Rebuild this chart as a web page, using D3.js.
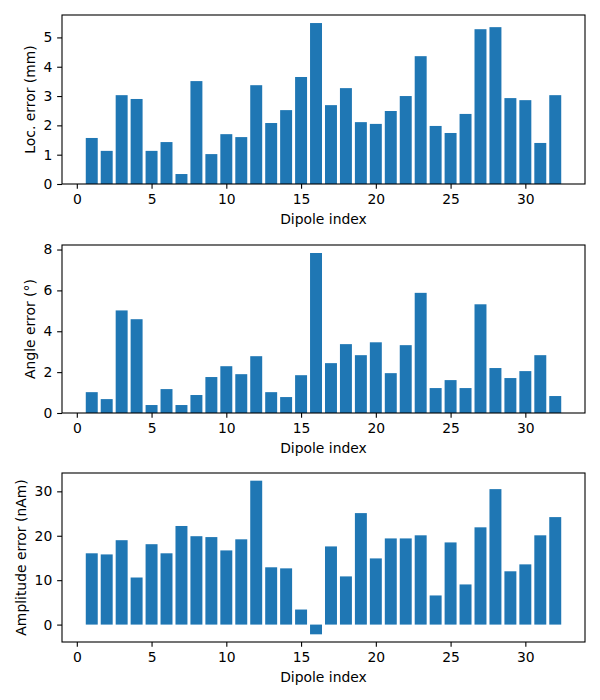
<!DOCTYPE html>
<html>
<head>
<meta charset="utf-8">
<script src="https://cdn.jsdelivr.net/npm/d3@7/dist/d3.min.js"></script>
<style>
  html, body { margin: 0; padding: 0; background: #fff; }
  svg { display: block; }
  text { font-family: "DejaVu Sans", sans-serif; fill: #000; }
</style>
</head>
<body>
<svg id="chart" width="600" height="700"></svg>
<script>
// ---- data ----
const dipoleIndex = d3.range(1, 33);
const locError = [1.57, 1.13, 3.03, 2.90, 1.13, 1.43, 0.34, 3.51, 1.02, 1.70, 1.60, 3.37, 2.08, 2.52, 3.65, 5.49,
                  2.69, 3.27, 2.11, 2.05, 2.49, 3.00, 4.36, 1.98, 1.74, 2.39, 5.28, 5.35, 2.93, 2.86, 1.40, 3.03];
const angleError = [1.02, 0.68, 5.02, 4.59, 0.39, 1.17, 0.39, 0.88, 1.76, 2.29, 1.90, 2.78, 1.02, 0.78, 1.85, 7.83,
                    2.44, 3.37, 2.83, 3.46, 1.95, 3.32, 5.88, 1.22, 1.61, 1.22, 5.32, 2.20, 1.71, 2.05, 2.83, 0.83];
const ampError = [16.05, 15.8, 19.0, 10.6, 18.1, 16.05, 22.2, 19.9, 19.7, 16.7, 19.2, 32.4, 12.9, 12.66, 3.39, -2.19,
                  17.6, 10.85, 25.1, 14.9, 19.4, 19.4, 20.1, 6.56, 18.5, 9.04, 21.9, 30.5, 12.0, 13.56, 20.1, 24.2];
const xTicks = [0, 5, 10, 15, 20, 25, 30];
const panels = [
  { values: locError,   ylabel: "Loc. error (mm)",       yTicks: [0, 1, 2, 3, 4, 5] },
  { values: angleError, ylabel: "Angle error (°)",       yTicks: [0, 2, 4, 6, 8] },
  { values: ampError,   ylabel: "Amplitude error (nAm)", yTicks: [0, 10, 20, 30] }
];
const xLabel = "Dipole index";

// ---- layout ----
const svg = d3.select("#chart");
const left = 62, right = 585;
const boxes = [[15, 184], [245, 413], [473, 642]];
const fs = 13.9, tickLen = 4.86, tickPad = 4.86, color = "#1f77b4";
const barW = 0.8;

// x limits like matplotlib margins 0.05
const xmin0 = d3.min(dipoleIndex) - barW / 2, xmax0 = d3.max(dipoleIndex) + barW / 2;
const xm = (xmax0 - xmin0) * 0.05;
const x = d3.scaleLinear().domain([xmin0 - xm, xmax0 + xm]).range([left, right]);

panels.forEach((p, k) => {
  const [top, bottom] = boxes[k];
  const dmin = Math.min(0, d3.min(p.values)), dmax = Math.max(0, d3.max(p.values));
  const m = (dmax - dmin) * 0.05;
  const lo = dmin < 0 ? dmin - m : 0;
  const y = d3.scaleLinear().domain([lo, dmax + m]).range([bottom, top]);

  const g = svg.append("g");

  g.selectAll("rect.bar").data(p.values).join("rect")
    .attr("class", "bar")
    .attr("x", (d, i) => x(dipoleIndex[i] - barW / 2))
    .attr("width", x(barW) - x(0))
    .attr("y", d => y(Math.max(0, d)))
    .attr("height", d => Math.abs(y(d) - y(0)))
    .attr("fill", color);

  // frame
  g.append("rect")
    .attr("x", left).attr("y", top)
    .attr("width", right - left).attr("height", bottom - top)
    .attr("fill", "none").attr("stroke", "#000").attr("stroke-width", 1.1);

  const xAxis = g.append("g").attr("transform", `translate(0,${bottom})`)
    .call(d3.axisBottom(x).tickValues(xTicks).tickFormat(d3.format("d"))
      .tickSize(tickLen).tickPadding(tickPad).tickSizeOuter(0));
  const yAxis = g.append("g").attr("transform", `translate(${left},0)`)
    .call(d3.axisLeft(y).tickValues(p.yTicks).tickFormat(d3.format("d"))
      .tickSize(tickLen).tickPadding(tickPad).tickSizeOuter(0));
  [xAxis, yAxis].forEach(a => {
    a.select(".domain").remove();
    a.selectAll("line").attr("stroke", "#000").attr("stroke-width", 1.1);
    a.selectAll("text").attr("font-family", "DejaVu Sans, sans-serif")
      .attr("font-size", fs).attr("fill", "#000");
  });

  g.append("text")
    .attr("x", (left + right) / 2).attr("y", bottom + 40)
    .attr("text-anchor", "middle").attr("font-size", fs)
    .text(xLabel);

  let minLeft = left;
  yAxis.selectAll("text").each(function () {
    const b = this.getBBox();
    const t = this.parentNode.getAttribute("transform");
    minLeft = Math.min(minLeft, left + b.x);
  });
  const lx = minLeft - 5.6 - 3.3;
  g.append("text")
    .attr("transform", `translate(${lx},${(top + bottom) / 2}) rotate(-90)`)
    .attr("text-anchor", "middle").attr("font-size", fs)
    .text(p.ylabel);
});
</script>
</body>
</html>
